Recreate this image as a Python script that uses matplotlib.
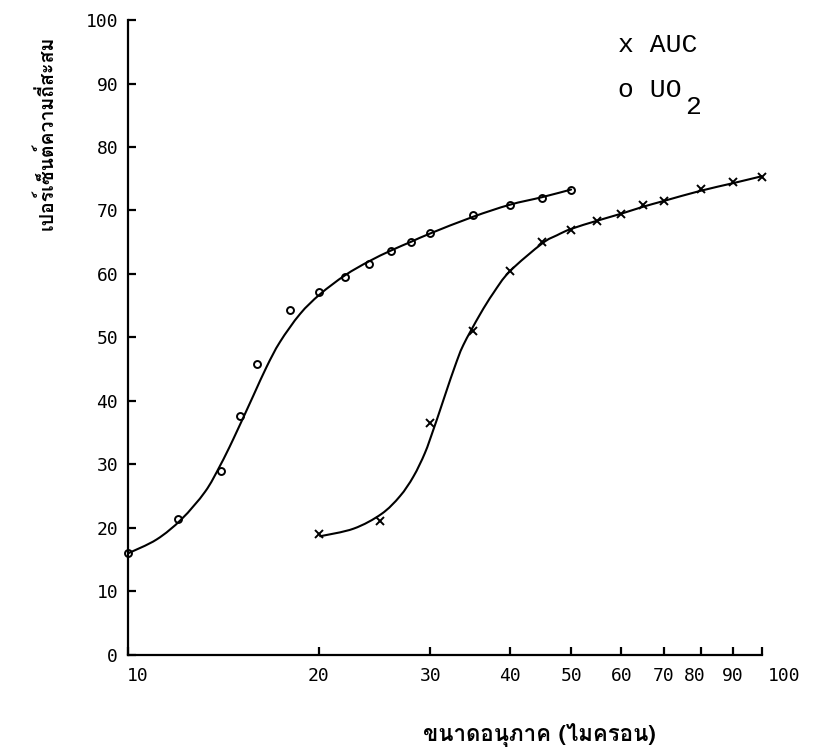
import numpy as np
import matplotlib; matplotlib.use("Agg")
import matplotlib.pyplot as plt
import matplotlib.transforms as mtransforms
from matplotlib import font_manager
from matplotlib.ft2font import FT2Font
from matplotlib.path import Path
from matplotlib.patches import PathPatch

# ----------------------------- ข้อมูล (อ่านจากรูป) -----------------------------
uo2_x = [10, 12, 14, 15, 16, 18, 20, 22, 24, 26, 28, 30, 35, 40, 45, 50]
uo2_y = [16.1, 21.4, 29.0, 37.7, 45.9, 54.3, 57.1, 59.6, 61.5, 63.6, 65.0, 66.4, 69.3, 70.9, 72.0, 73.3]

auc_x = [20, 25, 30, 35, 40, 45, 50, 55, 60, 65, 70, 80, 90, 100]
auc_y = [19.1, 21.1, 36.6, 51.0, 60.4, 65.1, 67.0, 68.3, 69.4, 70.8, 71.5, 73.4, 74.5, 75.2]

# เส้นโค้งที่ลากด้วยมือ (ตำแหน่งอ่านจากรูป)
uo2_curve_x = [10, 11.1, 12.15, 13.23, 13.97, 14.66, 15.76, 16.55, 17.37, 18.68, 20.08, 22, 24, 26, 28, 30, 35, 40, 45, 50]
uo2_curve_y = [16.0, 18.2, 21.4, 25.7, 29.8, 34.0, 40.8, 45.4, 49.3, 53.7, 56.8, 59.8, 62.0, 63.7, 65.1, 66.4, 69.0, 70.9, 72.1, 73.3]

auc_curve_x = [20.1, 22.7, 25.1, 26.85, 28.2, 29.4, 30.3, 31.05, 31.8, 32.8, 33.8, 35.9, 37.7, 40, 45, 47.5, 50, 55, 60, 65, 70, 80, 90, 100]
auc_curve_y = [18.7, 19.9, 22.2, 25.0, 28.1, 31.8, 35.4, 38.5, 41.6, 45.5, 48.8, 53.6, 57.0, 60.4, 64.8, 66.1, 67.1, 68.4, 69.5, 70.6, 71.5, 73.1, 74.3, 75.4]

x_ticks = [10, 20, 30, 40, 50, 60, 70, 80, 90, 100]
y_ticks = list(range(0, 101, 10))

xlabel = "ขนาดอนุภาค (ไมครอน)"
ylabel = "เปอร์เซ็นต์ความถี่สะสม"


def find_thai_font():
    # หาฟอนต์ที่มีอักษรไทย
    for f in font_manager.fontManager.ttflist:
        try:
            ft = FT2Font(f.fname)
            if ft.get_char_index(0x0E01) and ft.get_char_index(0x0E2A):
                return f.name
        except Exception:
            pass
    return "DejaVu Sans"


def smooth_path(xs, ys):
    # Catmull-Rom -> Bezier ในแกน log x ให้เส้นลื่นเหมือนลากด้วยมือ
    p = np.column_stack([np.log10(xs), ys])
    verts, codes = [p[0]], [Path.MOVETO]
    for i in range(len(p) - 1):
        p0 = p[i-1] if i > 0 else p[i]
        p3 = p[i+2] if i + 2 < len(p) else p[i+1]
        verts += [p[i] + (p[i+1] - p0) / 6, p[i+1] - (p3 - p[i]) / 6, p[i+1]]
        codes += [Path.CURVE4] * 3
    v = np.array(verts); v[:, 0] = 10 ** v[:, 0]
    return Path(v, codes)


thai = find_thai_font()
mono = "DejaVu Sans Mono"

fig = plt.figure(figsize=(8.13, 7.52), dpi=100)
ax = fig.add_axes([0.1574, 0.129, 0.7798, 0.8444])
ax.set_xscale("log")

for cx, cy in [(uo2_curve_x, uo2_curve_y), (auc_curve_x, auc_curve_y)]:
    ax.add_patch(PathPatch(smooth_path(cx, cy), fill=False, ec="black", lw=1.5, capstyle="round"))
ax.plot(uo2_x, uo2_y, "o", ms=5, mfc="none", mec="black", mew=1.4, clip_on=False)
ax.plot(auc_x, auc_y, "x", ms=5.5, color="black", mew=1.4, clip_on=False)

ax.set_xlim(10, 100); ax.set_ylim(0, 100)
ax.set_xticks(x_ticks); ax.set_xticklabels([str(v) for v in x_ticks])
ax.minorticks_off()
ax.set_yticks(y_ticks)
for s in ["top", "right"]:
    ax.spines[s].set_visible(False)
for s in ["left", "bottom"]:
    ax.spines[s].set_linewidth(1.6)
ax.tick_params(axis="both", direction="in", length=6, width=1.6, labelsize=13, pad=9)
ax.tick_params(axis="y", pad=7)
for lab in ax.get_xticklabels() + ax.get_yticklabels():
    lab.set_family(mono)

# เลื่อนป้าย 10 และ 100 ไปทางขวาเล็กน้อย
xl = ax.get_xticklabels()
for i, dx in [(0, 10), (len(xl) - 1, 22), (7, -6)]:
    xl[i].set_transform(xl[i].get_transform() + mtransforms.ScaledTranslation(dx / 100, 0, fig.dpi_scale_trans))

fig.text(0.057, 0.824, ylabel, rotation=90, ha="center", va="center", fontsize=14,
         fontweight="bold", family=[thai, "DejaVu Sans"])
fig.text(0.664, 0.022, xlabel, ha="center", va="center", fontsize=16,
         fontweight="bold", family=[thai, "DejaVu Sans"])

# คำอธิบายสัญลักษณ์
fig.text(0.760, 0.940, "x AUC", ha="left", va="center", fontsize=19, family="Liberation Mono")
fig.text(0.760, 0.880, "o UO", ha="left", va="center", fontsize=19, family="Liberation Mono")
fig.text(0.8426, 0.858, "2", ha="left", va="center", fontsize=19, family="Liberation Mono")

fig.savefig("out.png", dpi=100, facecolor="white")
